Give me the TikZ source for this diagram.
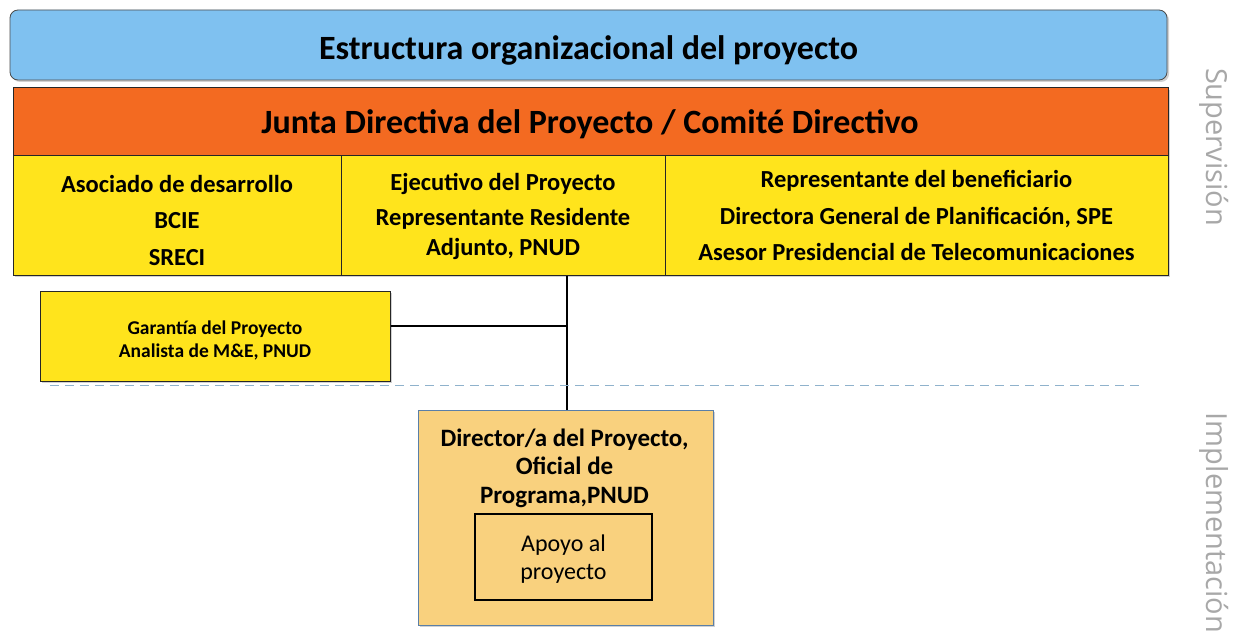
\documentclass[tikz,border=0pt]{standalone}
\usepackage{fontspec}
\setmainfont{Carlito}
\newfontfamily\sidefont{Open Sans}
\usetikzlibrary{positioning,calc}
\definecolor{titleblue}{HTML}{7FC1F0}
\definecolor{boardorange}{HTML}{F36A21}
\definecolor{cellyellow}{HTML}{FFE41C}
\definecolor{dirfill}{HTML}{F9D17E}
\definecolor{dirborder}{HTML}{5A7FA8}
\definecolor{dashcol}{HTML}{8FB2CC}
\definecolor{sidegray}{HTML}{A8A8A8}
\tikzset{
  shadowed/.style={preaction={fill=black,opacity=0.18,transform canvas={xshift=2pt,yshift=-2pt}}},
  cellbox/.style={draw=black!85,line width=1pt,fill=cellyellow,inner sep=0pt,shadowed},
  celltext/.style={align=center,inner sep=0pt,font=\bfseries\fontsize{24.5}{30}\selectfont},
  sidelabel/.style={font=\sidefont\fontsize{29}{32}\selectfont,text=sidegray,rotate=-90},
  link/.style={draw=black,line width=1.1pt}
}
\begin{document}
\begin{tikzpicture}[x=1pt,y=-1pt]
\useasboundingbox (0,0) rectangle (1235,634);
\fill[white] (0,0) rectangle (1235,634);
% title
\node[draw=black!70,line width=0.8pt,fill=titleblue,rounded corners=8pt,minimum width=1157pt,minimum height=70pt,
  inner sep=0pt,shadowed] (title) at (588.5,45) {};
\node[anchor=base,inner sep=0pt,font=\bfseries\fontsize{34}{38}\selectfont] (titletext) at (588.5,60)
  {Estructura organizacional del proyecto};
% board
\node[draw=black!85,line width=1pt,fill=boardorange,minimum width=1155pt,minimum height=67pt,inner sep=0pt,shadowed] (board) at (590.5,121.5) {};
\node[anchor=base,inner sep=0pt,font=\bfseries\fontsize{34}{38}\selectfont] (boardtext) at (590,133)
  {Junta Directiva del Proyecto / Comit\'e Directivo};
% cells
\node[cellbox,minimum width=328pt,minimum height=120pt] (asoc) at (177,215) {};
\node[celltext] (asoctext) at (177,220) {Asociado de desarrollo\\[6.5pt]BCIE\\[6.5pt]SRECI};
\node[cellbox,minimum width=324pt,minimum height=120pt] (ejec) at (503,215) {};
\node[celltext] (ejectext) at (503,216) {Ejecutivo del Proyecto\\[5pt]Representante Residente\\Adjunto, PNUD};
\node[cellbox,minimum width=503pt,minimum height=120pt] (benef) at (916.5,215) {};
\node[celltext] (beneftext) at (916.5,215.5)
  {Representante del beneficiario\\[6.5pt]Directora General de Planificaci\'on, SPE\\[6.5pt]Asesor Presidencial de Telecomunicaciones};
% garantia
\node[cellbox,minimum width=350pt,minimum height=90pt] (gar) at (215,336) {};
\node[celltext,font=\bfseries\fontsize{19.5}{23}\selectfont] (gartext) at (215,340) {Garant\'ia del Proyecto\\Analista de M\&E, PNUD};
% director
\node[draw=dirborder,line width=0.9pt,fill=dirfill,minimum width=295pt,minimum height=215pt,inner sep=0pt,shadowed] (dir) at (565.5,517.5) {};
\node[align=center,inner sep=0pt,font=\bfseries\fontsize{25}{28.5}\selectfont] (dirtext) at (564.5,468)
  {Director/a del Proyecto,\\Oficial de\\Programa,PNUD};
\node[draw=black,line width=2.2pt,fill=dirfill,minimum width=177pt,minimum height=86pt,inner sep=0pt] (apoyo) at (563.5,557) {};
\node[align=center,inner sep=0pt,font=\fontsize{24}{28}\selectfont] (apoyotext) at (563.5,559) {Apoyo al\\proyecto};
% connectors
\coordinate (junc) at (567,326);
\draw[link] (ejec.south -| junc) -- (dir.north -| junc);
\draw[link] (gar.east |- junc) -- (junc);
% dashed separator
\coordinate (dashL) at (50,385);
\coordinate (dashR) at (1143,385);
\draw[dashcol,line width=1pt,dash pattern=on 9pt off 6pt] (dashL) -- (dashR);
% side labels
\node[sidelabel] (sup) at (1214,147) {Supervisi\'on};
\node[sidelabel] (impl) at (1214,523) {Implementaci\'on};
\end{tikzpicture}
\end{document}
